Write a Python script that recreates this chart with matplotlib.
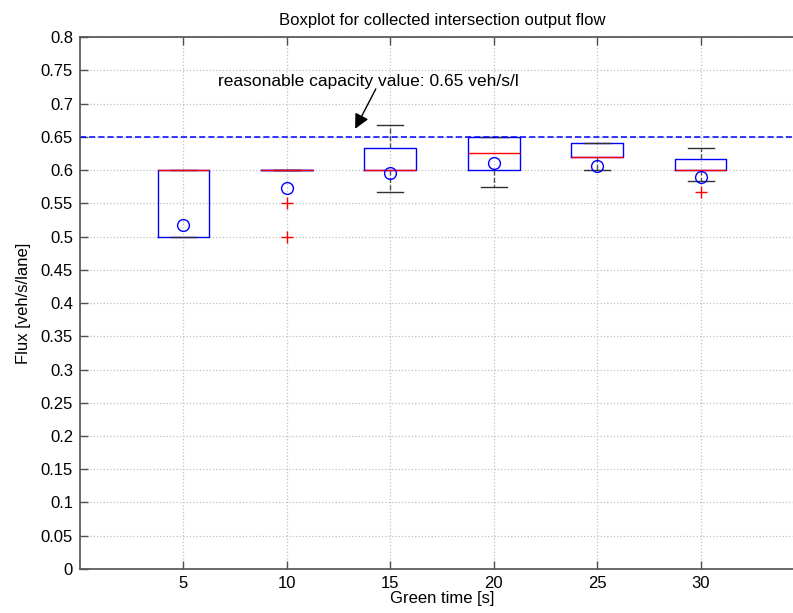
import matplotlib
matplotlib.use("Agg")
from matplotlib import pyplot as plt

plt.rcParams["font.family"] = ["Liberation Sans", "DejaVu Sans"]

# green time settings and the per-setting box statistics of the measured flux
greenTime = [5, 10, 15, 20, 25, 30]
q1 = [0.5, 0.6, 0.6, 0.6, 0.62, 0.6]
med = [0.6, 0.6, 0.6, 0.625, 0.62, 0.6]
q3 = [0.6, 0.6, 0.633, 0.65, 0.64, 0.617]
whisLo = [0.5, 0.6, 0.567, 0.575, 0.6, 0.583]
whisHi = [0.6, 0.6, 0.667, 0.65, 0.64, 0.633]
means = [0.517, 0.573, 0.596, 0.61, 0.606, 0.589]
outliers = [[], [0.55, 0.5], [], [], [], [0.567]]
capacity = 0.65

stats = []
for i in range(len(greenTime)):
    stats.append({"q1": q1[i], "med": med[i], "q3": q3[i],
                  "whislo": whisLo[i], "whishi": whisHi[i],
                  "mean": means[i], "fliers": outliers[i]})

fig = plt.figure(figsize=(7.93, 6.13), dpi=100)
ax = fig.add_axes([0.1009, 0.0718, 0.913, 0.8678])

pos = list(range(1, len(greenTime) + 1))
ax.bxp(stats, positions=pos, widths=0.5, showmeans=True, capwidths=0.25,
       boxprops=dict(color="blue", linewidth=1.0),
       medianprops=dict(color="red", linewidth=1.0),
       whiskerprops=dict(color="#505050", linestyle="--", linewidth=1.0),
       capprops=dict(color="#303030", linewidth=1.0),
       flierprops=dict(marker="+", markeredgecolor="red", markersize=8, linestyle="none"),
       meanprops=dict(marker="o", markerfacecolor="none", markeredgecolor="blue",
                      markersize=8.5, markeredgewidth=1.0))

ax.axhline(capacity, color="#0000ff", linestyle="--", linewidth=1.1, dashes=(4, 2))

# label text and its arrow pointing at the capacity line
ax.text(1.335, 0.733, "reasonable capacity value: 0.65 veh/s/l", fontsize=12.5,
        va="center", ha="left")
ax.annotate("", xy=(2.66, 0.662), xytext=(2.86, 0.722),
            arrowprops=dict(arrowstyle="-|>", color="black", lw=1.0, mutation_scale=22,
                            shrinkA=0, shrinkB=0))

ax.set_xlim(0, 7)
ax.set_ylim(0, 0.8)
ax.set_xticks(pos)
ax.set_xticklabels([str(g) for g in greenTime])
ax.set_yticks([i * 0.05 for i in range(17)])
ax.set_yticklabels(["0"] + ["%g" % round(i * 0.05, 2) for i in range(1, 17)])
ax.grid(True, linestyle=":", color="#c0c0c0", linewidth=0.9)
ax.set_axisbelow(True)
ax.tick_params(direction="in", top=True, right=False, length=6, width=1,
               color="#505050", labelsize=12, pad=5)
for s in ax.spines.values():
    s.set_color("#505050")
    s.set_linewidth(1.2)
ax.spines["right"].set_visible(False)

ax.set_title("Boxplot for collected intersection output flow", fontsize=12, pad=9)
ax.set_xlabel("Green time [s]", fontsize=12, labelpad=0)
ax.set_ylabel("Flux [veh/s/lane]", fontsize=12, labelpad=7)

fig.savefig("out.png", dpi=100)
